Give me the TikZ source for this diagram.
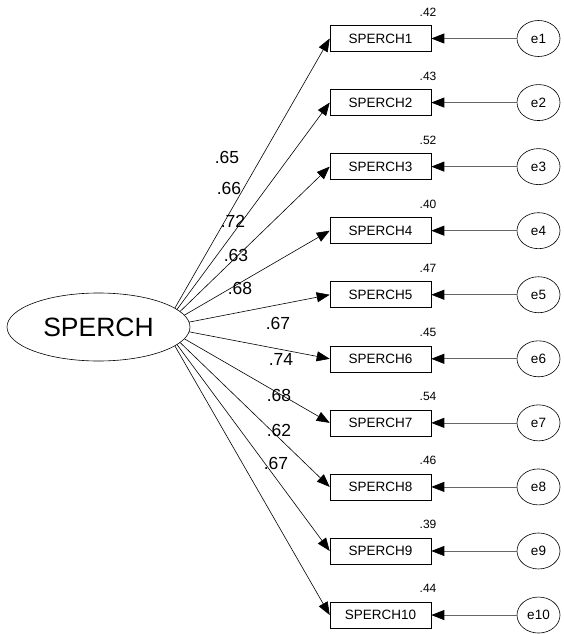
\documentclass[tikz,border=0pt]{standalone}
\usepackage{fontspec}
\setmainfont{Liberation Sans}
\usetikzlibrary{arrows.meta,shapes.geometric,backgrounds}
\begin{document}
\begin{tikzpicture}[x=1pt,y=-1pt,
  obs/.style={draw,line width=0.6pt,minimum width=101pt,minimum height=26pt,inner sep=0pt,font=\fontsize{13.5}{14}\selectfont},
  err/.style={draw,ellipse,line width=0.6pt,minimum width=43pt,minimum height=36pt,inner sep=0pt,font=\fontsize{13.5}{14}\selectfont},
  lat/.style={draw,fill=white,ellipse,line width=0.6pt,minimum width=183pt,minimum height=68pt,inner sep=0pt,font=\fontsize{26.5}{28}\selectfont},
  path/.style={line width=0.6pt,-{Triangle[length=13pt,width=10pt]}},
  res/.style={line width=0.7pt,draw=black!60,-{Triangle[length=13pt,width=10pt,black]}},
  sq/.style={font=\fontsize{12}{13}\selectfont},
  ld/.style={font=\fontsize{17.5}{18}\selectfont}]
\useasboundingbox (0,0) rectangle (564,634);
% latent factor; its regression paths fan out from a point inside it
\node[lat] (S) at (98.5,327) {SPERCH};
\coordinate (hub) at (164,327);
\foreach \i in {1,...,10}{
  \pgfmathsetmacro{\yy}{38.5+64.06*(\i-1)}
  \node[obs] (b\i) at (380.5,\yy) {SPERCH\i};
  \node[err] (e\i) at (538.5,\yy) {e\i};
  \draw[res] (e\i) -- (b\i);
}
\begin{scope}[on background layer]
  \foreach \i in {1,...,10}{
    \draw[path] (hub) -- (b\i.west);
  }
\end{scope}
% squared multiple correlations
\node[sq] (r1) at (428,12) {.42};
\node[sq] (r2) at (428,76) {.43};
\node[sq] (r3) at (428,140) {.52};
\node[sq] (r4) at (428,204) {.40};
\node[sq] (r5) at (428,268) {.47};
\node[sq] (r6) at (428,332) {.45};
\node[sq] (r7) at (428,396) {.54};
\node[sq] (r8) at (428,460) {.46};
\node[sq] (r9) at (428,524) {.39};
\node[sq] (r10) at (428,588) {.44};
% standardized loadings
\node[ld] (l1) at (227,157) {.65};
\node[ld] (l2) at (229,188) {.66};
\node[ld] (l3) at (233,221) {.72};
\node[ld] (l4) at (236,255) {.63};
\node[ld] (l5) at (240,288) {.68};
\node[ld] (l6) at (278,323) {.67};
\node[ld] (l7) at (281,359) {.74};
\node[ld] (l8) at (279,395) {.68};
\node[ld] (l9) at (279,430) {.62};
\node[ld] (l10) at (276,463) {.67};
\end{tikzpicture}
\end{document}
